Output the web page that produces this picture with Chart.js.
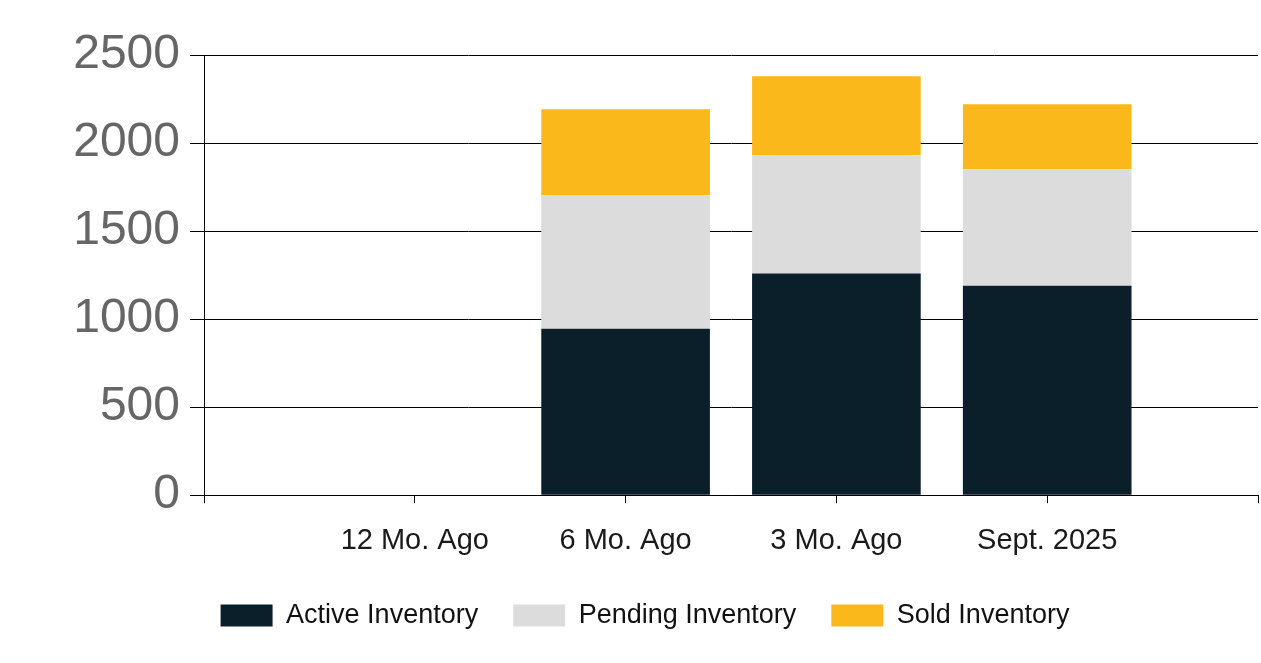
<!DOCTYPE html>
<html>
<head>
<meta charset="utf-8">
<script src="https://cdn.jsdelivr.net/npm/chart.js@4/dist/chart.umd.min.js"></script>
<style>
  html, body { margin: 0; padding: 0; background: #fff; overflow: hidden; }
  #wrap { width: 1261px; height: 663px; }
  canvas { display: block; }
</style>
</head>
<body>
<div id="wrap"><canvas id="myChart"></canvas></div>
<script>
// categories (blank slots at both ends so labels sit on the tick marks)
const labels = ['', '12 Mo. Ago', '6 Mo. Ago', '3 Mo. Ago', 'Sept. 2025', ''];
const activeInventory = [null, null, 945, 1259, 1190, null];
const pendingInventory = [null, null, 758, 672, 661, null];
const soldInventory = [null, null, 489, 449, 370, null];
const yTicks = [0, 500, 1000, 1500, 2000, 2500];

const fontFamily = '"Liberation Sans", Arial, sans-serif';

// legend in the original sits a little right of centre
const legendShift = {
  id: 'legendShift',
  afterLayout(chart) {
    chart.legend.left += 16;
    chart.legend.right += 16;
  }
};

const ctx = document.getElementById('myChart').getContext('2d');
const myChart = new Chart(ctx, {
  type: 'bar',
  data: {
    labels: labels,
    datasets: [
      { label: 'Active Inventory', data: activeInventory, backgroundColor: '#0b1f2b' },
      { label: 'Pending Inventory', data: pendingInventory, backgroundColor: '#dcdcdc' },
      { label: 'Sold Inventory', data: soldInventory, backgroundColor: '#fbb81b' }
    ]
  },
  plugins: [legendShift],
  options: {
    responsive: true,
    maintainAspectRatio: false,
    animation: false,
    layout: { padding: { top: 55, right: 3, left: 0, bottom: 24 } },
    datasets: {
      bar: { categoryPercentage: 0.8, barPercentage: 1, borderWidth: 0 }
    },
    plugins: {
      tooltip: { enabled: false },
      legend: {
        position: 'bottom',
        labels: {
          boxWidth: 52,
          boxHeight: 22,
          padding: 35,
          color: '#111',
          font: { family: fontFamily, size: 27 }
        }
      }
    },
    scales: {
      x: {
        stacked: true,
        offset: false,
        afterFit: function (scale) {
          scale.height -= 11;
          scale.paddingRight = 0;
        },
        grid: { drawOnChartArea: false, offset: false, color: '#000', tickLength: 8 },
        border: { color: '#000' },
        ticks: {
          color: '#1a1a1a',
          padding: 20,
          maxRotation: 0,
          autoSkip: false,
          font: { family: fontFamily, size: 29 }
        }
      },
      y: {
        stacked: true,
        min: yTicks[0],
        max: yTicks[yTicks.length - 1],
        afterFit: function (scale) { scale.width = 204; },
        afterBuildTicks: function (scale) { scale.ticks = yTicks.map(v => ({ value: v })); },
        grid: { color: '#000', tickLength: 14 },
        border: { color: '#000' },
        ticks: {
          color: '#666',
          padding: 10,
          callback: function (value) { return String(value); },
          font: { family: fontFamily, size: 48 }
        }
      }
    }
  }
});
</script>
</body>
</html>
